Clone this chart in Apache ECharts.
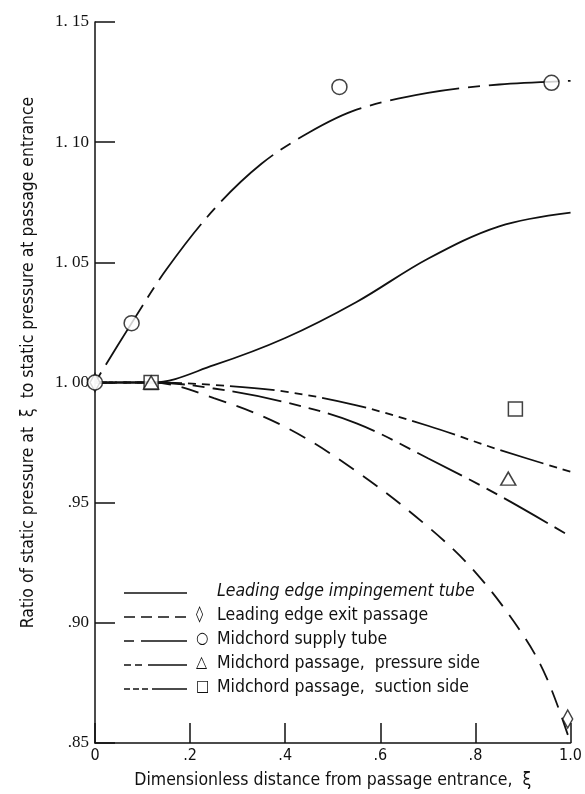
<!DOCTYPE html>
<html>
<head>
<meta charset="utf-8">
<script src="https://cdn.jsdelivr.net/npm/echarts@6/dist/echarts.min.js"></script>
<style>
  html, body { margin: 0; padding: 0; background: #fff; }
  #chart { width: 585px; height: 794px; }
</style>
</head>
<body>
<div id="chart"></div>
<script>
// curves: [xi, pressure ratio]
var impingementLine = [[0, 1.0], [0.12, 1.0], [0.25, 1.0072], [0.4, 1.0185], [0.55, 1.0335], [0.7, 1.0515], [0.85, 1.065], [1.0, 1.0707]];
var exitLine = [[0, 1.0], [0.12, 1.0], [0.25, 0.9935], [0.4, 0.9815], [0.55, 0.963], [0.7, 0.94], [0.8, 0.921], [0.9, 0.895], [0.95, 0.877], [1.0, 0.85]];
var supplyLine = [[0, 1.0], [0.077, 1.0247], [0.15, 1.047], [0.25, 1.072], [0.35, 1.091], [0.45, 1.104], [0.55, 1.1135], [0.7, 1.1205], [0.85, 1.124], [1.0, 1.1255]];
var pressureLine = [[0, 1.0], [0.12, 1.0], [0.25, 0.9975], [0.4, 0.9918], [0.55, 0.983], [0.7, 0.9685], [0.85, 0.953], [1.0, 0.9359]];
var suctionLine = [[0, 1.0], [0.12, 1.0], [0.25, 0.999], [0.4, 0.9962], [0.55, 0.9905], [0.7, 0.982], [0.85, 0.972], [1.0, 0.9629]];

// measured points
var exitPoints = [[0, 1.0], [0.994, 0.860]];
var supplyPoints = [[0, 1.0], [0.077, 1.0247], [0.514, 1.123], [0.96, 1.1247]];
var pressurePoints = [[0.118, 1.0], [0.869, 0.960]];
var suctionPoints = [[0.118, 1.0], [0.884, 0.989]];

var xTickLabels = ['0', '.2', '.4', '.6', '.8', '1.0'];
var yTickLabels = ['.85', '.90', '.95', '1. 00', '1. 05', '1. 10', '1. 15'];

var legendGlyphs = ['', '\u25CA', '\u25CB', '\u25B3', '\u25A1'];
var legendNames = [
  'Leading edge impingement tube',
  'Leading edge exit passage',
  'Midchord supply tube',
  'Midchord passage,  pressure side',
  'Midchord passage,  suction side'
];

var ink = '#111';
var dashExit = [18, 11];
var dashSupply = [12, 9, 70, 9];
var dashPressure = [12, 8, 12, 8, 50, 8];
var dashSuction = [8, 6, 8, 6, 8, 6, 45, 6];

var chart = echarts.init(document.getElementById('chart'));

function curve(name, data, dash) {
  return {
    name: name,
    type: 'line',
    data: data,
    smooth: 0.35,
    showSymbol: false,
    clip: false,
    lineStyle: { color: ink, width: 1.8, type: dash },
    z: 2
  };
}

function marks(name, data, symbol, size) {
  return {
    name: name,
    type: 'scatter',
    data: data,
    symbol: symbol,
    symbolSize: size,
    clip: false,
    itemStyle: { color: '#fff', borderColor: ink, borderWidth: 1.5 },
    z: 5
  };
}

// legend drawn by hand: line, glyph, text
var legendDashes = [null, [11, 6], [10, 7, 46, 0], [7, 4, 7, 6, 38, 0], [6, 3, 6, 3, 6, 4, 34, 0]];
var legendFont = '"DejaVu Sans Condensed", sans-serif';
var legendGraphics = [];
for (var i = 0; i < legendNames.length; i++) {
  var yRow = 593 + i * 24;
  legendGraphics.push({
    type: 'line',
    shape: { x1: 124, y1: yRow, x2: 187, y2: yRow },
    style: { stroke: ink, lineWidth: 1.6, lineDash: legendDashes[i] }
  });
  if (legendGlyphs[i]) {
    legendGraphics.push({
      type: 'text',
      left: 196,
      top: yRow - 10,
      style: { text: legendGlyphs[i], fill: ink, font: '16px ' + legendFont }
    });
  }
  legendGraphics.push({
    type: 'text',
    left: 217,
    top: yRow - 11,
    style: {
      text: legendNames[i],
      fill: ink,
      font: (i === 0 ? 'italic ' : '') + '17.5px ' + legendFont
    }
  });
}

chart.setOption({
  animation: false,
  backgroundColor: '#fff',
  grid: { left: 95, right: 8, top: 22, bottom: 49 },
  xAxis: {
    type: 'value',
    min: 0,
    max: 1.0,
    interval: 0.2,
    name: 'Dimensionless distance from passage entrance,  \u03BE',
    nameLocation: 'middle',
    nameGap: 28,
    nameTextStyle: { color: ink, fontSize: 17.5, fontFamily: 'DejaVu Sans Condensed' },
    axisLine: { lineStyle: { color: ink, width: 1.5 } },
    axisTick: { inside: true, length: 20, lineStyle: { color: ink, width: 1.5 } },
    axisLabel: {
      color: ink,
      fontSize: 16,
      fontFamily: 'DejaVu Sans Condensed',
      margin: 5,
      formatter: function (v) { return xTickLabels[Math.round(v / 0.2)]; }
    },
    splitLine: { show: false }
  },
  yAxis: {
    type: 'value',
    min: 0.85,
    max: 1.15,
    interval: 0.05,
    name: 'Ratio of static pressure at  \u03BE  to static pressure at passage entrance',
    nameLocation: 'middle',
    nameGap: 58,
    nameTextStyle: { color: ink, fontSize: 17.4, fontFamily: 'DejaVu Sans Condensed', padding: [0, 0, 0, 40] },
    axisLine: { lineStyle: { color: ink, width: 1.5 } },
    axisTick: { inside: true, length: 20, lineStyle: { color: ink, width: 1.5 } },
    axisLabel: {
      color: ink,
      fontSize: 17,
      fontFamily: 'Liberation Serif',
      margin: 6,
      formatter: function (v) { return yTickLabels[Math.round((v - 0.85) / 0.05)]; }
    },
    splitLine: { show: false }
  },
  graphic: legendGraphics,
  series: [
    curve('Leading edge impingement tube', impingementLine, 'solid'),
    curve('Leading edge exit passage', exitLine, dashExit),
    curve('Midchord supply tube', supplyLine, dashSupply),
    curve('Midchord passage, pressure side', pressureLine, dashPressure),
    curve('Midchord passage, suction side', suctionLine, dashSuction),
    marks('exit', exitPoints, 'diamond', [10, 18]),
    marks('supply', supplyPoints, 'circle', 15),
    marks('suction', suctionPoints, 'rect', 14),
    marks('pressure', pressurePoints, 'triangle', [15, 13])
  ]
});
</script>
</body>
</html>
